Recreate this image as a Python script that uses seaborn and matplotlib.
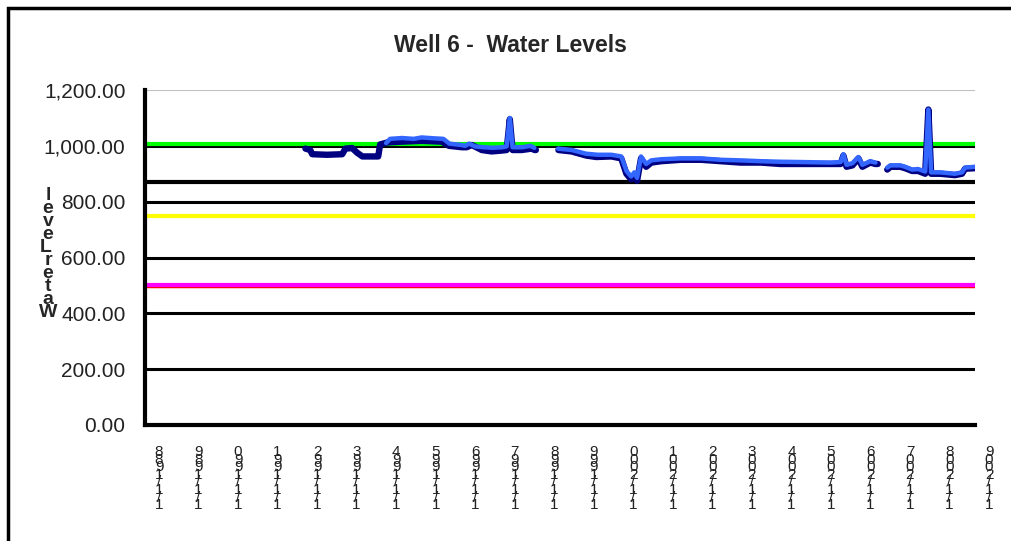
import numpy as np
import pandas as pd
import matplotlib
matplotlib.use("Agg")
import matplotlib.pyplot as plt
import matplotlib.transforms as mtransforms
from matplotlib.patches import Rectangle
import seaborn as sns

# --- data (decimal years, water level) ---
TICK_YEARS = list(range(1988, 2010))
Y_TICKS = [0, 200, 400, 600, 800, 1000, 1200]

# dark navy series, three segments
NAVY_SEG = [1] * 31 + [2] * 36 + [3] * 14
NAVY_X = [1992.06, 1992.18, 1992.23, 1992.61, 1992.99, 1993.07, 1993.24, 1993.37, 1993.50,
          1993.90, 1993.95, 1994.13, 1994.50, 1995.00, 1995.51, 1995.69, 1996.02, 1996.14,
          1996.27, 1996.52, 1996.77, 1997.02, 1997.15, 1997.23, 1997.30, 1997.53, 1997.78,
          1997.86, 1997.87, 1997.88, 1997.89,
          1998.46, 1998.79, 1999.17, 1999.42, 1999.80, 2000.05, 2000.18, 2000.30, 2000.38,
          2000.45, 2000.55, 2000.68, 2000.81, 2001.06, 2001.56, 2002.07, 2002.57, 2003.07,
          2003.58, 2004.08, 2004.59, 2005.34, 2005.60, 2005.67, 2005.75, 2005.90, 2006.05,
          2006.15, 2006.35, 2006.48, 2006.49, 2006.50, 2006.51, 2006.52, 2006.53, 2006.54,
          2006.78, 2006.86, 2007.11, 2007.23, 2007.41, 2007.56, 2007.74, 2007.82, 2007.89,
          2008.12, 2008.49, 2008.67, 2008.75, 2009.00]
NAVY_Y = [990, 985, 970, 968, 970, 990, 992, 975, 962,
          962, 1005, 1012, 1015, 1018, 1015, 1000, 995, 995,
          1003, 985, 980, 983, 985, 1095, 985, 985, 990,
          985, 985, 985, 985,
          985, 980, 965, 960, 962, 955, 900, 880, 895,
          875, 955, 925, 940, 945, 950, 950, 945, 940,
          940, 935, 935, 935, 935, 965, 925, 930, 955,
          925, 940, 935, 935, 935, 935, 935, 935, 935,
          915, 925, 925, 920, 910, 910, 900, 1130, 900,
          900, 895, 900, 918, 920]

# bright blue series, three segments
BLUE_SEG = [1] * 21 + [2] * 30 + [3] * 14
BLUE_X = [1994.10, 1994.20, 1994.50, 1994.80, 1995.00, 1995.30, 1995.55, 1995.70, 1996.00,
          1996.10, 1996.20, 1996.35, 1996.55, 1996.80, 1997.05, 1997.15, 1997.23, 1997.30,
          1997.55, 1997.75, 1997.85,
          1998.45, 1998.80, 1999.15, 1999.45, 1999.80, 2000.05, 2000.18, 2000.30, 2000.38,
          2000.45, 2000.55, 2000.68, 2000.81, 2001.06, 2001.56, 2002.07, 2002.57, 2003.07,
          2003.58, 2004.08, 2004.59, 2005.34, 2005.60, 2005.67, 2005.75, 2005.90, 2006.05,
          2006.15, 2006.35, 2006.48,
          2006.78, 2006.86, 2007.11, 2007.23, 2007.41, 2007.56, 2007.74, 2007.82, 2007.89,
          2008.12, 2008.49, 2008.67, 2008.75, 2009.00]
BLUE_Y = [1010, 1025, 1028, 1025, 1030, 1027, 1025, 1008, 1003,
          1000, 1008, 998, 995, 993, 995, 998, 1100, 995,
          995, 1000, 993,
          990, 985, 972, 968, 968, 962, 910, 890, 905,
          885, 962, 935, 948, 952, 955, 955, 950, 948,
          945, 943, 942, 940, 942, 970, 932, 938, 960,
          932, 945, 940,
          922, 930, 930, 925, 915, 917, 908, 1130, 905,
          905, 900, 905, 922, 925]

# reference levels
REF_LEVELS = [1005, 870, 750, 497, 502]
REF_COLORS = ["#00ff00", "#000000", "#ffff00", "#ff0000", "#ff00ff"]

navy = pd.DataFrame({"year": NAVY_X, "level": NAVY_Y, "seg": NAVY_SEG})
blue = pd.DataFrame({"year": BLUE_X, "level": BLUE_Y, "seg": BLUE_SEG})

sns.set_style("white")
plt.rcParams["font.family"] = ["Liberation Sans", "DejaVu Sans"]

fig = plt.figure(figsize=(10.11, 5.41), dpi=100)
ax = fig.add_axes([145 / 1011, 1 - 425 / 541, (975 - 145) / 1011, (425 - 90) / 541])

# gridlines
for v in Y_TICKS[1:-1]:
    ax.axhline(v, color="black", lw=2.2, zorder=1)
ax.axhline(1200, color="#c0c0c0", lw=0.8, zorder=1)

for v, c in zip(REF_LEVELS, REF_COLORS):
    lw = 3.0 if c != "#ff0000" else 2.5
    ax.axhline(v, color=c, lw=lw, zorder=2)

sns.lineplot(data=navy, x="year", y="level", units="seg", estimator=None,
             color="#000080", lw=4.6, ax=ax, zorder=3)
sns.lineplot(data=blue, x="year", y="level", units="seg", estimator=None,
             color="#3366ff", lw=3.2, ax=ax, zorder=4)

ax.set_yticks(Y_TICKS)
ax.set_yticklabels([f"{v:,.2f}" for v in Y_TICKS], fontsize=15)
ax.set_xticks(TICK_YEARS)
ax.set_xticklabels([])
ax.set_xlim(1988, 2009)
ax.set_ylim(0, 1200)

# stacked date labels, sitting a little right of each tick
off = mtransforms.ScaledTranslation(14 / 100, -20 / 100, fig.dpi_scale_trans)
for y in TICK_YEARS:
    ax.text(y, 0, "\n".join(reversed(f"1/1/{y}")), transform=ax.get_xaxis_transform() + off,
            ha="center", va="top", fontsize=11, linespacing=0.42, color="#222222",
            clip_on=False)

ax.tick_params(axis="y", direction="inout", length=10, width=2.5, pad=9, colors="black")
ax.tick_params(axis="x", direction="inout", length=10, width=2.5, colors="black")
for lab in ax.get_yticklabels():
    lab.set_color("#222222")

for side in ["top", "right"]:
    ax.spines[side].set_visible(False)
for side in ["left", "bottom"]:
    ax.spines[side].set_linewidth(3)
    ax.spines[side].set_color("black")
ax.set_xlabel("")
ax.set_ylabel("")
ax.grid(False)

fig.text(510 / 1011, 1 - 46 / 541, "Well 6 -  Water Levels", ha="center", va="center",
         fontsize=16.5, fontweight="bold")
ylab_lines = ["l", "e", "v", "e", "L ", "r", "e", "t", "a", "W"]
fig.text(48 / 1011, 1 - 254 / 541, "\n".join(ylab_lines), ha="center",
         va="center", fontsize=14, fontweight="bold", linespacing=0.7)

# outer frame (top and left edges visible)
fig.patches.append(Rectangle((8 / 1011, -0.1), 1.2, (1 - 8 / 541) + 0.1,
                             transform=fig.transFigure, fill=False, lw=2.5,
                             edgecolor="black"))

fig.savefig("out.png", dpi=100)
